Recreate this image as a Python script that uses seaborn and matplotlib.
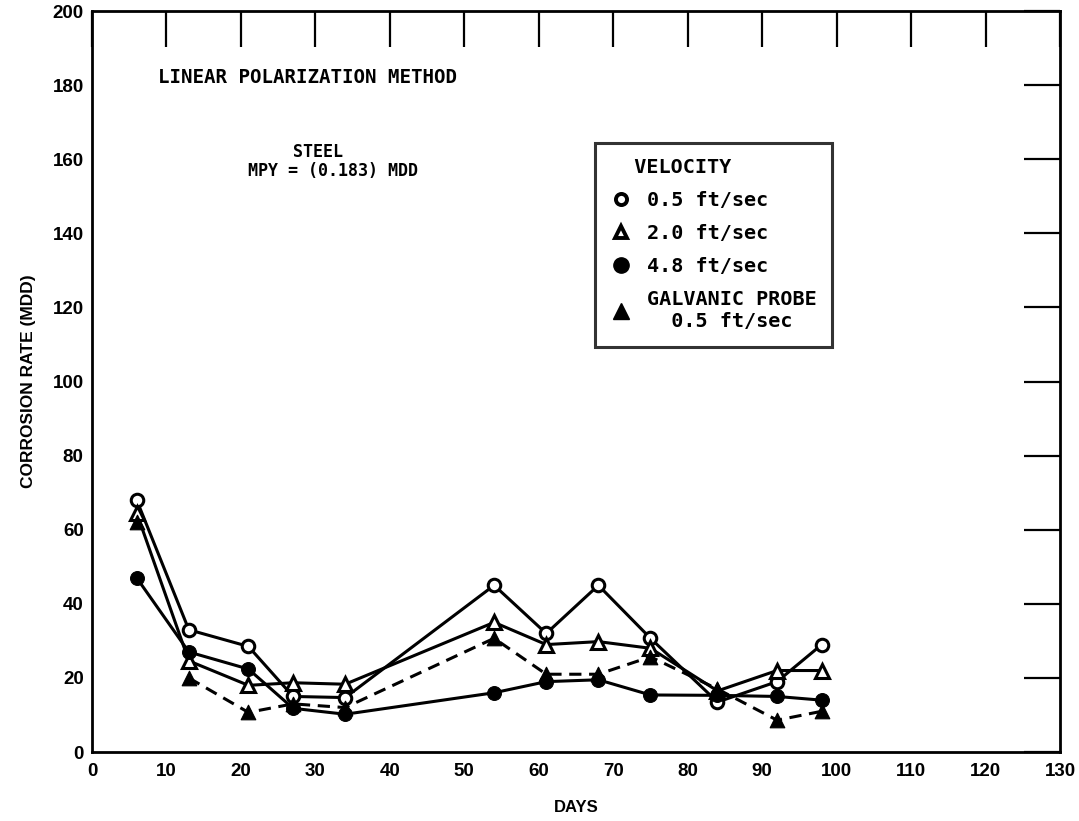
import matplotlib
matplotlib.use("Agg")
import matplotlib.pyplot as plt
from matplotlib.lines import Line2D
import pandas as pd
import seaborn as sns

sns.set_theme(style="white")
plt.rcParams["font.family"] = ["Liberation Sans", "DejaVu Sans"]
plt.rcParams["text.color"] = "black"
plt.rcParams["axes.labelcolor"] = "black"

# sampling days and corrosion rates (MDD)
days = [6, 13, 21, 27, 34, 54, 61, 68, 75, 84, 92, 98]
v05 = [68, 33, 28.5, 15, 14.7, 45, 32, 45, 30.7, 13.5, 19, 29]
v20 = [64.5, 24.6, 18, 18.7, 18.3, 35, 29, 29.8, 28, 16.5, 22, 22]
v48 = [47, 27, 22.4, 11.8, 10.2, 16, 19, 19.5, 15.4, 15.3, 15, 14]
galv = [62, 20, 10.7, 13, 12, 30.7, 21, 21, 25.7, 17, 8.6, 11]

xticks = list(range(0, 131, 10))
yticks = list(range(0, 201, 20))

df = pd.DataFrame({"days": days, "v05": v05, "v20": v20, "v48": v48, "galv": galv})

fig = plt.figure(figsize=(10.79, 8.21), dpi=100)
ax = fig.add_axes([0.0853, 0.084, 0.8971, 0.9026])

lw = 2.2
ms = 9
sns.lineplot(x="days", y="v05", data=df, ax=ax, color="black", lw=lw,
             marker="o", ms=ms, mfc="white", markeredgecolor="black",
             markeredgewidth=2.2)
sns.lineplot(x="days", y="v20", data=df, ax=ax, color="black", lw=lw,
             marker="^", ms=ms + 1, mfc="white", markeredgecolor="black",
             markeredgewidth=2.2)
sns.lineplot(x="days", y="v48", data=df, ax=ax, color="black", lw=lw,
             marker="o", ms=ms + 1, mfc="black", markeredgecolor="black")
# galvanic probe: first reading not joined to the rest
sns.lineplot(x="days", y="galv", data=df.iloc[1:], ax=ax, color="black",
             lw=lw, ls=(0, (4, 2.5)))
sns.scatterplot(x="days", y="galv", data=df, ax=ax, color="black",
                marker="^", s=110, edgecolor="black", zorder=5)

ax.set_xlim(0, 130)
ax.set_ylim(0, 200)
ax.set_xticks(xticks)
ax.set_yticks(yticks)
ax.tick_params(direction="in", length=26, width=1.6, top=True, right=True,
               labelsize=13.5, color="black", labelcolor="black")
ax.tick_params(axis="x", pad=8)
ax.tick_params(axis="y", pad=6)
for lab in ax.get_xticklabels() + ax.get_yticklabels():
    lab.set_fontweight("bold")
for sp in ax.spines.values():
    sp.set_color("black")
    sp.set_linewidth(2)

ax.set_xlabel("DAYS", fontsize=12, fontweight="bold", labelpad=14)
ax.set_ylabel("CORROSION RATE (MDD)", fontsize=12.5, fontweight="bold", labelpad=12)

mono = ["DejaVu Sans Mono"]
ax.text(8.9, 182, "LINEAR POLARIZATION METHOD", family=mono, fontsize=13.8,
        fontweight="bold", va="center", ha="left")
ax.text(30.4, 162, "STEEL", family=mono, fontsize=12, fontweight="bold",
        ha="center", va="center")
ax.text(32.4, 156.8, "MPY = (0.183) MDD", family=mono, fontsize=12,
        fontweight="bold", ha="center", va="center")

handles = [
    Line2D([], [], ls="none", marker="o", ms=8, mfc="white", mec="black", mew=2.8),
    Line2D([], [], ls="none", marker="^", ms=9, mfc="white", mec="black", mew=2.8),
    Line2D([], [], ls="none", marker="o", ms=11, mfc="black", mec="black"),
    Line2D([], [], ls="none", marker="^", ms=11, mfc="black", mec="black"),
]
labels = ["0.5 ft/sec", "2.0 ft/sec", "4.8 ft/sec", "GALVANIC PROBE\n  0.5 ft/sec"]
leg = ax.legend(handles, labels, title="  VELOCITY", loc="upper left",
                bbox_to_anchor=(0.52, 0.822), frameon=True, fancybox=False,
                prop={"family": mono, "weight": "bold", "size": 14.5},
                title_fontproperties={"family": mono, "weight": "bold", "size": 14.5},
                handletextpad=0.8, labelspacing=0.7, borderpad=0.75,
                handlelength=1.0, borderaxespad=0)
leg._legend_box.align = "left"
leg.get_frame().set_edgecolor("black")
leg.get_frame().set_linewidth(2.2)

fig.savefig("out.png", dpi=100)
